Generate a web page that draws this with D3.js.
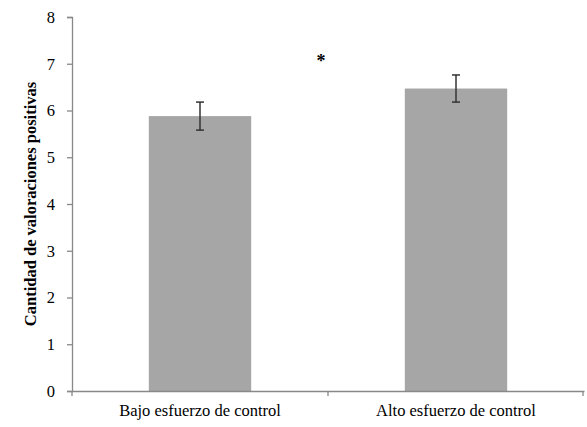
<!DOCTYPE html>
<html>
<head>
<meta charset="utf-8">
<script src="https://cdn.jsdelivr.net/npm/d3@7/dist/d3.min.js"></script>
<style>
  body { margin: 0; background: #fff; }
  svg { display: block; }
</style>
</head>
<body>
<div id="chart"></div>
<script>
// chart values
var categories = ["Bajo esfuerzo de control", "Alto esfuerzo de control"];
var means = [5.88, 6.47];
var errors = [0.30, 0.29];
var yTicks = [0, 1, 2, 3, 4, 5, 6, 7, 8];
var yLabel = "Cantidad de valoraciones positivas";
var significance = "*";

var FONT = "'Liberation Serif', 'Times New Roman', serif";
var W = 587, H = 427;
var margin = { top: 17, right: 3, bottom: 36, left: 72 };

var svg = d3.select("#chart").append("svg")
    .attr("width", W)
    .attr("height", H);

var x = d3.scaleBand()
    .domain(categories)
    .range([margin.left, W - margin.right])
    .padding(0);

var y = d3.scaleLinear()
    .domain([0, 8])
    .range([H - margin.bottom, margin.top]);

var barW = x.bandwidth() * 0.4;

// bars
svg.selectAll(".bar").data(categories).enter().append("rect")
    .attr("class", "bar")
    .attr("x", function (d) { return x(d) + (x.bandwidth() - barW) / 2; })
    .attr("y", function (d, i) { return y(means[i]); })
    .attr("width", barW)
    .attr("height", function (d, i) { return y(0) - y(means[i]); })
    .attr("fill", "#a6a6a6");

// error bars
var eb = svg.selectAll(".err").data(categories).enter().append("g")
    .attr("class", "err")
    .attr("stroke", "#333")
    .attr("stroke-width", 1.5);
eb.append("line")
    .attr("x1", function (d) { return x(d) + x.bandwidth() / 2; })
    .attr("x2", function (d) { return x(d) + x.bandwidth() / 2; })
    .attr("y1", function (d, i) { return y(means[i] + errors[i]); })
    .attr("y2", function (d, i) { return y(means[i] - errors[i]); });
[1, -1].forEach(function (s) {
    eb.append("line")
        .attr("x1", function (d) { return x(d) + x.bandwidth() / 2 - 4; })
        .attr("x2", function (d) { return x(d) + x.bandwidth() / 2 + 4; })
        .attr("y1", function (d, i) { return y(means[i] + s * errors[i]); })
        .attr("y2", function (d, i) { return y(means[i] + s * errors[i]); });
});

// y axis
var yAxis = svg.append("g")
    .attr("transform", "translate(" + margin.left + ",0)")
    .call(d3.axisLeft(y).tickValues(yTicks).tickSize(5).tickPadding(12).tickFormat(d3.format("d")));
yAxis.select(".domain").attr("stroke", "#888").attr("stroke-width", 1.3);
yAxis.selectAll(".tick line").attr("stroke", "#888").attr("stroke-width", 1.3);
yAxis.selectAll(".tick text")
    .style("font-family", FONT)
    .style("font-size", "16.5px")
    .attr("fill", "#000");

// x axis
var xAxis = svg.append("g")
    .attr("transform", "translate(0," + y(0) + ")")
    .call(d3.axisBottom(x).tickSize(0).tickPadding(13));
xAxis.select(".domain").attr("stroke", "#888").attr("stroke-width", 1.3);
xAxis.selectAll(".tick text")
    .style("font-family", FONT)
    .style("font-size", "16.5px")
    .attr("fill", "#000");
// category boundary ticks
var bounds = [margin.left, W - margin.right - 1].concat(categories.slice(1).map(function (d) { return x(d); }));
xAxis.selectAll(".bound").data(bounds).enter().append("line")
    .attr("x1", function (d) { return d; })
    .attr("x2", function (d) { return d; })
    .attr("y1", 0)
    .attr("y2", 5)
    .attr("stroke", "#888")
    .attr("stroke-width", 1.3);

// y label
svg.append("text")
    .attr("transform", "translate(36," + ((y(0) + y(8)) / 2) + ") rotate(-90)")
    .attr("text-anchor", "middle")
    .style("font-family", FONT)
    .style("font-size", "16.5px")
    .style("font-weight", "bold")
    .text(yLabel);

// significance marker
svg.append("text")
    .attr("x", x(categories[1]) - 7)
    .attr("y", 67)
    .attr("text-anchor", "middle")
    .style("font-family", FONT)
    .style("font-size", "18px")
    .style("font-weight", "bold")
    .text(significance);
</script>
</body>
</html>
